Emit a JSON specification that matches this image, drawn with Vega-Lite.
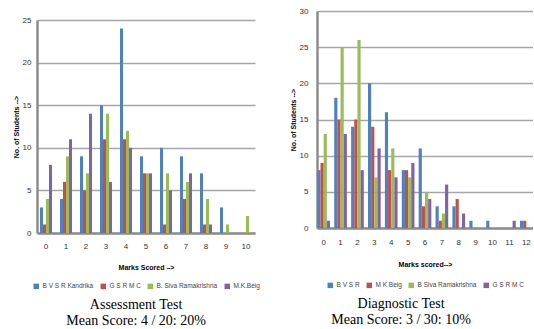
{
  "$schema": "https://vega.github.io/schema/vega-lite/v6.json",
  "background": "white",
  "padding": {"left": 12, "top": 7, "right": 0, "bottom": 0},
  "config": {
    "view": {"stroke": null},
    "font": "Liberation Sans",
    "axis": {
      "labelFont": "Liberation Sans",
      "labelFontSize": 8,
      "labelColor": "#333333",
      "titleFont": "Liberation Sans",
      "titleFontSize": 7,
      "titleFontWeight": "bold",
      "titleColor": "#000000",
      "domainColor": "#8c8c8c",
      "domainWidth": 2.5,
      "ticks": false,
      "gridColor": "#a6a6a6",
      "gridWidth": 1.3
    },
    "legend": {
      "orient": "bottom",
      "direction": "horizontal",
      "symbolType": "square",
      "symbolSize": 30,
      "labelFontSize": 6.5,
      "labelColor": "#444444",
      "labelOffset": 3,
      "columnPadding": 6,
      "symbolStrokeWidth": 0,
      "offset": 10,
      "layout": {"bottom": {"anchor": "middle"}}
    },
    "title": {
      "font": "Liberation Serif",
      "fontSize": 14,
      "fontWeight": "normal",
      "color": "#000000",
      "subtitleFont": "Liberation Serif",
      "subtitleFontSize": 14,
      "subtitleColor": "#000000",
      "subtitlePadding": 2,
      "orient": "bottom",
      "anchor": "middle",
      "frame": "bounds",
      "offset": 8
    }
  },
  "datasets": {
    "assess": [
      {"m": 0, "s": "B V S R Kandrika", "n": 3}, {"m": 0, "s": "G S R M C", "n": 1}, {"m": 0, "s": "B. Siva Ramakrishna", "n": 4}, {"m": 0, "s": "M.K.Beig", "n": 8},
      {"m": 1, "s": "B V S R Kandrika", "n": 4}, {"m": 1, "s": "G S R M C", "n": 6}, {"m": 1, "s": "B. Siva Ramakrishna", "n": 9}, {"m": 1, "s": "M.K.Beig", "n": 11},
      {"m": 2, "s": "B V S R Kandrika", "n": 9}, {"m": 2, "s": "G S R M C", "n": 5}, {"m": 2, "s": "B. Siva Ramakrishna", "n": 7}, {"m": 2, "s": "M.K.Beig", "n": 14},
      {"m": 3, "s": "B V S R Kandrika", "n": 15}, {"m": 3, "s": "G S R M C", "n": 11}, {"m": 3, "s": "B. Siva Ramakrishna", "n": 14}, {"m": 3, "s": "M.K.Beig", "n": 6},
      {"m": 4, "s": "B V S R Kandrika", "n": 24}, {"m": 4, "s": "G S R M C", "n": 11}, {"m": 4, "s": "B. Siva Ramakrishna", "n": 12}, {"m": 4, "s": "M.K.Beig", "n": 10},
      {"m": 5, "s": "B V S R Kandrika", "n": 9}, {"m": 5, "s": "G S R M C", "n": 7}, {"m": 5, "s": "B. Siva Ramakrishna", "n": 7}, {"m": 5, "s": "M.K.Beig", "n": 7},
      {"m": 6, "s": "B V S R Kandrika", "n": 10}, {"m": 6, "s": "G S R M C", "n": 1}, {"m": 6, "s": "B. Siva Ramakrishna", "n": 7}, {"m": 6, "s": "M.K.Beig", "n": 5},
      {"m": 7, "s": "B V S R Kandrika", "n": 9}, {"m": 7, "s": "G S R M C", "n": 4}, {"m": 7, "s": "B. Siva Ramakrishna", "n": 6}, {"m": 7, "s": "M.K.Beig", "n": 7},
      {"m": 8, "s": "B V S R Kandrika", "n": 7}, {"m": 8, "s": "G S R M C", "n": 1}, {"m": 8, "s": "B. Siva Ramakrishna", "n": 4}, {"m": 8, "s": "M.K.Beig", "n": 1},
      {"m": 9, "s": "B V S R Kandrika", "n": 3}, {"m": 9, "s": "G S R M C", "n": 0}, {"m": 9, "s": "B. Siva Ramakrishna", "n": 1}, {"m": 9, "s": "M.K.Beig", "n": 0},
      {"m": 10, "s": "B V S R Kandrika", "n": 0}, {"m": 10, "s": "G S R M C", "n": 0}, {"m": 10, "s": "B. Siva Ramakrishna", "n": 2}, {"m": 10, "s": "M.K.Beig", "n": 0}
    ],
    "diag": [
      {"m": 0, "s": "B V S R", "n": 8}, {"m": 0, "s": "M K Beig", "n": 9}, {"m": 0, "s": "B Siva Ramakrishna", "n": 13}, {"m": 0, "s": "G S R M C", "n": 1},
      {"m": 1, "s": "B V S R", "n": 18}, {"m": 1, "s": "M K Beig", "n": 15}, {"m": 1, "s": "B Siva Ramakrishna", "n": 25}, {"m": 1, "s": "G S R M C", "n": 13},
      {"m": 2, "s": "B V S R", "n": 14}, {"m": 2, "s": "M K Beig", "n": 15}, {"m": 2, "s": "B Siva Ramakrishna", "n": 26}, {"m": 2, "s": "G S R M C", "n": 8},
      {"m": 3, "s": "B V S R", "n": 20}, {"m": 3, "s": "M K Beig", "n": 14}, {"m": 3, "s": "B Siva Ramakrishna", "n": 7}, {"m": 3, "s": "G S R M C", "n": 11},
      {"m": 4, "s": "B V S R", "n": 16}, {"m": 4, "s": "M K Beig", "n": 8}, {"m": 4, "s": "B Siva Ramakrishna", "n": 11}, {"m": 4, "s": "G S R M C", "n": 7},
      {"m": 5, "s": "B V S R", "n": 8}, {"m": 5, "s": "M K Beig", "n": 8}, {"m": 5, "s": "B Siva Ramakrishna", "n": 7}, {"m": 5, "s": "G S R M C", "n": 9},
      {"m": 6, "s": "B V S R", "n": 11}, {"m": 6, "s": "M K Beig", "n": 3}, {"m": 6, "s": "B Siva Ramakrishna", "n": 5}, {"m": 6, "s": "G S R M C", "n": 4},
      {"m": 7, "s": "B V S R", "n": 3}, {"m": 7, "s": "M K Beig", "n": 1}, {"m": 7, "s": "B Siva Ramakrishna", "n": 2}, {"m": 7, "s": "G S R M C", "n": 6},
      {"m": 8, "s": "B V S R", "n": 3}, {"m": 8, "s": "M K Beig", "n": 4}, {"m": 8, "s": "B Siva Ramakrishna", "n": 0}, {"m": 8, "s": "G S R M C", "n": 2},
      {"m": 9, "s": "B V S R", "n": 1}, {"m": 9, "s": "M K Beig", "n": 0}, {"m": 9, "s": "B Siva Ramakrishna", "n": 0}, {"m": 9, "s": "G S R M C", "n": 0},
      {"m": 10, "s": "B V S R", "n": 1}, {"m": 10, "s": "M K Beig", "n": 0}, {"m": 10, "s": "B Siva Ramakrishna", "n": 0}, {"m": 10, "s": "G S R M C", "n": 0},
      {"m": 11, "s": "B V S R", "n": 0}, {"m": 11, "s": "M K Beig", "n": 0}, {"m": 11, "s": "B Siva Ramakrishna", "n": 0}, {"m": 11, "s": "G S R M C", "n": 1},
      {"m": 12, "s": "B V S R", "n": 1}, {"m": 12, "s": "M K Beig", "n": 1}, {"m": 12, "s": "B Siva Ramakrishna", "n": 0}, {"m": 12, "s": "G S R M C", "n": 0}
    ]
  },
  "spacing": 29,
  "resolve": {
    "scale": {"color": "independent", "x": "independent", "y": "independent", "xOffset": "independent"},
    "legend": {"color": "independent"}
  },
  "hconcat": [
    {
      "width": 218,
      "height": 222,
      "data": {"name": "assess"},
      "title": {"text": "Assessment Test", "subtitle": "Mean Score: 4 / 20: 20%"},
      "mark": {"type": "bar"},
      "encoding": {
        "x": {
          "field": "m", "type": "ordinal",
          "scale": {"paddingInner": 0.4, "paddingOuter": 0.15},
          "axis": {"title": "Marks Scored \u2013>", "labelAngle": 0, "labelPadding": 9, "titlePadding": 13}
        },
        "xOffset": {"field": "s", "type": "nominal", "sort": ["B V S R Kandrika", "G S R M C", "B. Siva Ramakrishna", "M.K.Beig"]},
        "y": {
          "field": "n", "type": "quantitative",
          "scale": {"domain": [0, 25], "range": [222, 9]},
          "axis": {"title": "No. of Students -->", "values": [0, 5, 10, 15, 20, 25], "labelPadding": 6, "titlePadding": 3}
        },
        "color": {
          "field": "s", "type": "nominal",
          "scale": {"domain": ["B V S R Kandrika", "G S R M C", "B. Siva Ramakrishna", "M.K.Beig"], "range": ["#4f81bd", "#c0504d", "#9bbb59", "#8064a2"]},
          "legend": {"title": null, "offset": 13}
        }
      }
    },
    {
      "width": 216,
      "height": 217,
      "data": {"name": "diag"},
      "title": {"text": "Diagnostic Test", "subtitle": "Mean Score: 3 / 30: 10%", "dx": -10},
      "mark": {"type": "bar"},
      "encoding": {
        "x": {
          "field": "m", "type": "ordinal",
          "scale": {"paddingInner": 0.25, "paddingOuter": 0.02},
          "axis": {"title": "Marks scored-->", "labelAngle": 0, "labelPadding": 10, "titlePadding": 14}
        },
        "xOffset": {"field": "s", "type": "nominal", "sort": ["B V S R", "M K Beig", "B Siva Ramakrishna", "G S R M C"]},
        "y": {
          "field": "n", "type": "quantitative",
          "scale": {"domain": [0, 30]},
          "axis": {"title": "No. of Students -->", "values": [0, 5, 10, 15, 20, 25, 30], "labelPadding": 9, "titlePadding": 3}
        },
        "color": {
          "field": "s", "type": "nominal",
          "scale": {"domain": ["B V S R", "M K Beig", "B Siva Ramakrishna", "G S R M C"], "range": ["#4f81bd", "#c0504d", "#9bbb59", "#8064a2"]},
          "legend": {"title": null, "offset": 15}
        }
      }
    }
  ]
}
